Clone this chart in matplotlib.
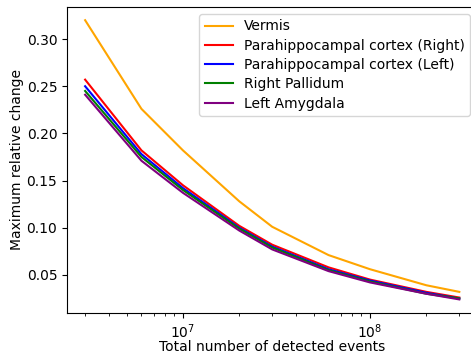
import matplotlib
matplotlib.use("Agg")
import matplotlib.pyplot as plt

# Total number of detected events
events = [3e6, 6e6, 1e7, 2e7, 3e7, 6e7, 1e8, 2e8, 3e8]

# Maximum relative change per region
vermis = [0.320, 0.226, 0.182, 0.128, 0.101, 0.071, 0.056, 0.039, 0.032]
parahip_right = [0.257, 0.182, 0.145, 0.102, 0.082, 0.058, 0.045, 0.032, 0.026]
parahip_left = [0.250, 0.178, 0.142, 0.100, 0.080, 0.056, 0.044, 0.031, 0.025]
right_pallidum = [0.245, 0.175, 0.140, 0.099, 0.079, 0.055, 0.043, 0.030, 0.025]
left_amygdala = [0.241, 0.171, 0.137, 0.097, 0.077, 0.054, 0.042, 0.030, 0.024]

labels = ['Vermis', 'Parahippocampal cortex (Right)', 'Parahippocampal cortex (Left)',
          'Right Pallidum', 'Left Amygdala']
colors = ['orange', 'red', 'blue', 'green', 'purple']
series = [vermis, parahip_right, parahip_left, right_pallidum, left_amygdala]

fig = plt.figure(figsize=(4.71, 3.53), dpi=100)
# axes runs a bit past the right edge, as in the cropped original
ax = fig.add_axes([67 / 471, 40 / 353, 410 / 471, 306 / 353])

for vals, lab, col in zip(series, labels, colors):
    ax.plot(events, vals, color=col, label=lab)

ax.set_xscale('log')
ax.set_xlim(2.40e6, 3.73e8)
ax.set_ylim(0.0096, 0.334)
ax.set_yticks([0.05, 0.10, 0.15, 0.20, 0.25, 0.30])
ax.set_xlabel('Total number of detected events', labelpad=-1)
ax.set_ylabel('Maximum relative change', labelpad=2)
ax.legend(loc='upper right', labelspacing=0.38, handlelength=2.0)

fig.savefig('out.png', dpi=100)
